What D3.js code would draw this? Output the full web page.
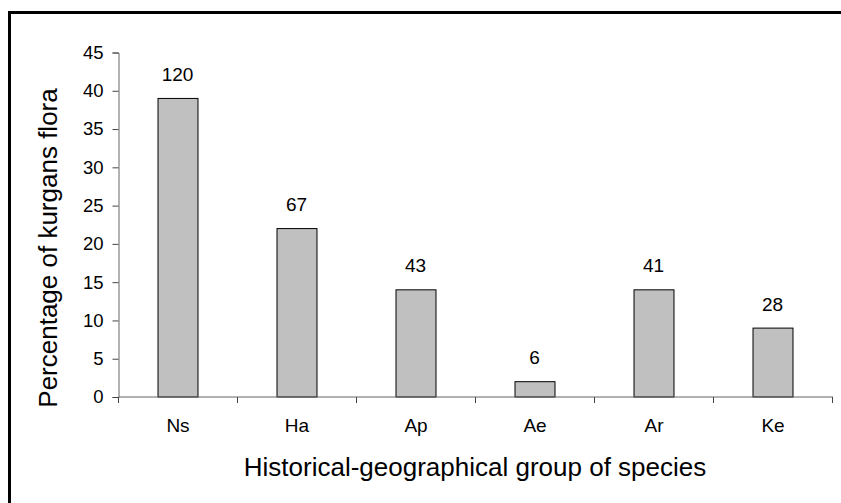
<!DOCTYPE html>
<html><head><meta charset="utf-8">
<script src="https://cdn.jsdelivr.net/npm/d3@7"></script>
<style>body{margin:0;background:#fff}svg{display:block}text{font-family:"Liberation Sans",Arial,sans-serif;fill:#000}</style>
</head><body><svg id="c" width="841" height="503"></svg>
<script>
const categories = ["Ns","Ha","Ap","Ae","Ar","Ke"];
const percentages = [39,22,14,2,14,9];
const counts = [120,67,43,6,41,28];
const yTicks = [0,5,10,15,20,25,30,35,40,45];
const xTitle = "Historical-geographical group of species";
const yTitle = "Percentage of kurgans flora";

const svg = d3.select("#c");
svg.append("rect").attr("x",9.5).attr("y",12.5).attr("width",900).attr("height",600)
  .attr("fill","none").attr("stroke","#000").attr("stroke-width",3);

const x = d3.scaleBand().domain(categories).range([118,832]).paddingInner(0.664).paddingOuter(0.332);
const xTicksScale = d3.scaleBand().domain(categories).range([118,832]);
const y = d3.scaleLinear().domain([0,45]).range([396.5,52]);

// bars
svg.selectAll("rect.bar").data(categories).join("rect").attr("class","bar")
  .attr("x",d=>x(d)+0.5).attr("y",(d,i)=>y(percentages[i])+0.5)
  .attr("width",x.bandwidth()).attr("height",(d,i)=>y(0)-y(percentages[i]))
  .attr("fill","#c0c0c0").attr("stroke","#000").attr("stroke-width",1);

// y axis
const ya = svg.append("g").attr("transform","translate(118.5,0.5)")
  .call(d3.axisLeft(y).tickValues(yTicks).tickSize(6).tickPadding(9).tickFormat(d3.format("d")));
ya.select(".domain").attr("stroke","#666");
ya.selectAll(".tick line").attr("stroke","#444");
ya.selectAll("text").attr("font-size",18.5).attr("font-family","Liberation Sans, Arial, sans-serif").attr("fill","#000");

// x axis
const xa = svg.append("g").attr("transform","translate(0.5,396.5)")
  .call(d3.axisBottom(xTicksScale).tickSize(0).tickPadding(22));
xa.select(".domain").attr("stroke","#666");
xa.selectAll("text").attr("font-size",19).attr("font-family","Liberation Sans, Arial, sans-serif").attr("fill","#000");
// category separator ticks
const edges = categories.map(c=>xTicksScale(c)).concat([xTicksScale.range()[1]]);
svg.append("g").selectAll("line").data(edges).join("line")
  .attr("x1",d=>Math.round(d)+0.5).attr("x2",d=>Math.round(d)+0.5)
  .attr("y1",397).attr("y2",403).attr("stroke","#444");

// bar labels
svg.selectAll("text.lbl").data(categories).join("text").attr("class","lbl")
  .attr("x",d=>x(d)+x.bandwidth()/2).attr("y",(d,i)=>y(percentages[i])-17)
  .attr("text-anchor","middle").attr("font-size",19).text((d,i)=>counts[i]);

// titles
svg.append("text").attr("x",475).attr("y",476).attr("text-anchor","middle")
  .attr("font-size",26).text(xTitle);
svg.append("text").attr("transform","translate(57,248) rotate(-90)").attr("text-anchor","middle")
  .attr("font-size",26).text(yTitle);
</script></body></html>
